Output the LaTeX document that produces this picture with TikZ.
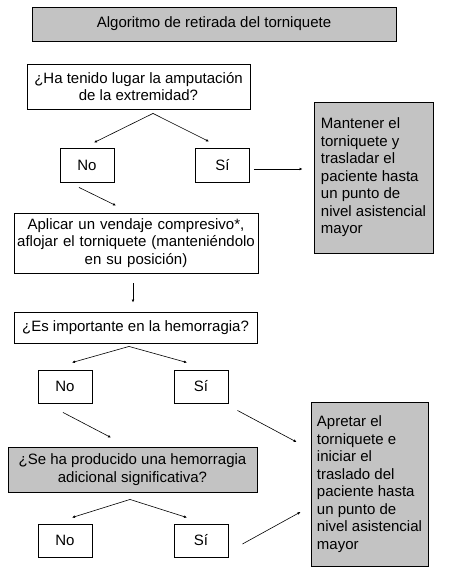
\documentclass[tikz,border=0pt]{standalone}
\usepackage{fontspec}
\setmainfont{Liberation Sans}
\usetikzlibrary{arrows.meta}
\usetikzlibrary{calc}
\definecolor{boxgray}{RGB}{195,195,195}
\tikzstyle{heading} = [rectangle, minimum width=364pt, minimum height=34pt, text centered, draw=black, line width=0.9pt, fill=boxgray]
\tikzstyle{question} = [rectangle, align=center, inner sep=2pt, draw=black, line width=0.9pt]
\tikzstyle{answer} = [rectangle, minimum width=54pt, minimum height=34pt, text centered, draw=black, line width=0.9pt]
\tikzstyle{outcome} = [rectangle, align=left, inner xsep=6pt, draw=black, line width=0.9pt, fill=boxgray]
\tikzstyle{arrow} = [line width=0.6pt,-{Latex[length=3pt,width=2.8pt]}]

\begin{document}
\begin{tikzpicture}[x=1pt, y=-1pt, font=\fontsize{15}{17.5}\selectfont]
\useasboundingbox (0,0) rectangle (453,580);
\node (title) [heading] at (214,24) {Algoritmo de retirada del torniquete};
\node (amput) [question, minimum width=223pt, minimum height=45pt] at (138.5,86.5) {¿Ha tenido lugar la amputación\\de la extremidad?};
\node (no1) [answer] at (87,165) {No};
\node (si1) [answer] at (222.5,165) {Sí};
\node (keep) [outcome, minimum width=119pt, minimum height=151pt] at (373.5,177.5) {Mantener el\\torniquete y\\trasladar el\\paciente hasta\\un punto de\\nivel asistencial\\mayor};
\node (apply) [question, text width=238pt, inner xsep=3pt, minimum height=60pt] at (136,243) {Aplicar un vendaje compresivo*,\\aflojar el torniquete (manteniéndolo\\en su posición)};
\node (haem) [question, minimum width=243pt, minimum height=31pt] at (135.5,327.5) {¿Es importante en la hemorragia?};
\node (no2) [answer, minimum height=33pt] at (65,386.5) {No};
\node (si2) [answer, minimum height=33pt] at (201,386.5) {Sí};
\node (tight) [outcome, minimum width=117pt, minimum height=164pt] at (369.5,484) {Apretar el\\torniquete e\\iniciar el\\traslado del\\paciente hasta\\un punto de\\nivel asistencial\\mayor};
\node (extra) [question, fill=boxgray, minimum width=249pt, minimum height=45pt] at (132.5,469.5) {¿Se ha producido una hemorragia\\adicional significativa?};
\node (no3) [answer, minimum height=33pt] at (65,540.5) {No};
\node (si3) [answer, minimum height=33pt] at (201,540.5) {Sí};
% first question
\draw [arrow] ($(amput.south)+(14.5,4)$) -- ($(no1.north)+(7,-5)$);
\draw [arrow] ($(amput.south)+(14.5,4)$) -- ($(si1.north)+(-13.5,-6)$);
\draw [arrow] ($(si1.east)+(4,4)$) -- ($(keep.west)+(-11,-8.5)$);
\draw [arrow] ($(no1.south)+(-8,5)$) -- ($(apply.north)+(-20,-7)$);
\draw [arrow] ($(apply.south)+(-3,10)$) -- ($(haem.north)+(-2.5,-9)$);
% second question
\draw [arrow] ($(haem.south)+(-6.5,3)$) -- ($(no2.north)+(7,-7)$);
\draw [arrow] ($(haem.south)+(-6.5,3)$) -- ($(si2.north)+(-14,-7)$);
\draw [arrow] ($(no2.south)+(-2,9)$) -- ($(extra.north)+(-21.5,-9)$);
\draw [arrow] ($(si2.south east)+(9,7)$) -- ($(tight.west)+(-14,-42)$);
% third question
\draw [arrow] ($(extra.south)+(-2.5,7)$) -- ($(no3.north)+(7,-6)$);
\draw [arrow] ($(extra.south)+(-2.5,7)$) -- ($(si3.north)+(-14,-6)$);
\draw [arrow] ($(si3.east)+(14,3.5)$) -- ($(tight.west)+(-10,28)$);
\end{tikzpicture}
\end{document}
